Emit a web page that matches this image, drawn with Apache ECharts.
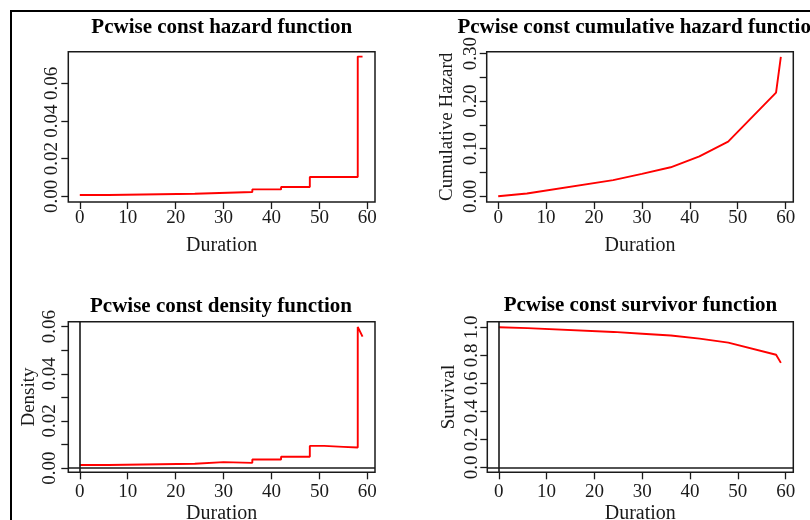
<!DOCTYPE html>
<html><head><meta charset="utf-8">
<script src="https://cdn.jsdelivr.net/npm/echarts@6/dist/echarts.min.js"></script>
<style>html,body{margin:0;padding:0;background:#fff}#c{width:810px;height:520px}</style>
</head><body><div id="c"></div>
<script>
// ---- data ----
const titles = ['Pcwise const hazard function','Pcwise const cumulative hazard function','Pcwise const density function','Pcwise const survivor function'];
const xTickValues = [0,10,20,30,40,50,60];

// piecewise constant hazard: interval breaks and values
const hazardBreaks = [0,6,24,36,42,48,58,59];
const hazardValues = [0.0007,0.0014,0.0023,0.0037,0.0050,0.0103,0.0742];

// cumulative hazard at the breakpoints
const cumTimes  = [0,6,24,30,36,42,48,58,59];
const cumValues = [0,0.006,0.034,0.047,0.061,0.084,0.115,0.218,0.293];

// density (step-like line)
const densityX = [0,6,6,24,24,30,30,36,36,42,42,48,48,51,51,55,55,58,58,59];
const densityY = [0.0013,0.0013,0.0018,0.0018,0.0025,0.0025,0.0022,0.0022,0.0036,0.0036,0.0048,0.0048,0.0094,0.0094,0.0090,0.0090,0.0087,0.0087,0.0599,0.0558];

// survivor function at the breakpoints
const survTimes  = [0,6,24,30,36,42,48,58,59];
const survValues = [1,0.994,0.967,0.954,0.941,0.919,0.891,0.804,0.746];

// y tick marks and labels
const hazTicks = [0,0.02,0.04,0.06], hazLabels = [0,0.02,0.04,0.06];
const cumTicks = [0,0.05,0.10,0.15,0.20,0.25,0.30], cumLabels = [0,0.10,0.20,0.30];
const denTicks = [0,0.01,0.02,0.03,0.04,0.05,0.06], denLabels = [0,0.02,0.04,0.06];
const surTicks = [0,0.2,0.4,0.6,0.8,1.0], surLabels = [0,0.2,0.4,0.6,0.8,1.0];

// ---- build ----
const hazardPts = [];
for (let i = 0; i < hazardValues.length; i++) {
  hazardPts.push([hazardBreaks[i], hazardValues[i]]);
  hazardPts.push([hazardBreaks[i+1], hazardValues[i]]);
}
const cumPts = cumTimes.map((t,i)=>[t,cumValues[i]]);
const denPts = densityX.map((t,i)=>[t,densityY[i]]);
const surPts = survTimes.map((t,i)=>[t,survValues[i]]);

const FONT = '"Liberation Serif","DejaVu Serif",serif';
const INK = '#1a1a1a';

const grids = [
  {left:68.3, top:51.7, width:306.7, height:150.3},
  {left:486.7, top:51.7, width:306.6, height:150.3},
  {left:68.3, top:321.7, width:306.7, height:150.6},
  {left:487.3, top:321.7, width:306, height:150.6}
].map(g => Object.assign({show:true, borderColor:INK, borderWidth:1.5, backgroundColor:'transparent', containLabel:false, outerBoundsMode:'none'}, g));

function xAx(i, labelMargin, nameGap) {
  return {
    type:'value', gridIndex:i, min:-2.4, max:61.6, position:'bottom',
    axisLine:{show:false, onZero:false}, splitLine:{show:false},
    axisTick:{show:true, inside:false, length:7, lineStyle:{color:INK,width:1.3}, customValues:xTickValues},
    axisLabel:{show:true, margin:labelMargin, color:INK, fontFamily:FONT, fontSize:19, customValues:xTickValues, formatter:v=>String(v)},
    name:'Duration', nameLocation:'middle', nameGap:nameGap,
    nameTextStyle:{fontFamily:FONT, fontSize:20, color:INK}
  };
}
function yAx(i, min, max, ticks, labels, dec, name, nameGap, labelMargin) {
  return {
    type:'value', gridIndex:i, min:min, max:max, position:'left',
    axisLine:{show:false, onZero:false}, splitLine:{show:false},
    axisTick:{show:true, inside:false, length:7, lineStyle:{color:INK,width:1.3}, customValues:ticks},
    axisLabel:{show:true, rotate:90, margin:labelMargin, color:INK, fontFamily:FONT, fontSize:19, customValues:labels, formatter:v=>Number(v).toFixed(dec)},
    name:name, nameLocation:'middle', nameGap:nameGap, nameRotate:90,
    nameTextStyle:{fontFamily:FONT, fontSize:19, color:INK}
  };
}

const refLines = {
  silent:true, symbol:['none','none'], label:{show:false},
  lineStyle:{color:INK, type:'solid', width:1.6},
  emphasis:{disabled:true},
  data:[{xAxis:0},{yAxis:0}]
};
function line(i, data, withRef) {
  const s = {type:'line', xAxisIndex:i, yAxisIndex:i, data:data, showSymbol:false, symbol:'none',
    lineStyle:{color:'#ff0000', width:1.9}, itemStyle:{color:'#ff0000'}, animation:false, z:3};
  if (withRef) s.markLine = refLines;
  return s;
}

function titleText(x, y, text) {
  return {type:'text', x:x, y:y, z:10, style:{text:text, fill:'#000', font:'bold 21px '+FONT, textAlign:'center', textVerticalAlign:'middle'}};
}

const option = {
  animation:false,
  backgroundColor:'#fff',
  grid:grids,
  xAxis:[xAx(0,7,34), xAx(1,7,34), xAx(2,10,31), xAx(3,10,31)],
  yAxis:[
    yAx(0,-0.003,0.0768,hazTicks,hazLabels,2,'',30,7),
    yAx(1,-0.012,0.304,cumTicks,cumLabels,2,'Cumulative Hazard',30,6),
    yAx(2,-0.0018,0.0621,denTicks,denLabels,2,'Density',30,9),
    yAx(3,-0.035,1.04,surTicks,surLabels,1,'Survival',29,6)
  ],
  series:[line(0,hazardPts,false), line(1,cumPts,false), line(2,denPts,true), line(3,surPts,true)],
  graphic:[
    {type:'rect', z:0, shape:{x:11, y:11, width:900, height:600}, style:{fill:'none', stroke:'#000', lineWidth:2}},
    titleText(221.7, 27.5, titles[0]),
    titleText(640, 27.5, titles[1]),
    titleText(221, 306.5, titles[2]),
    titleText(640.5, 305.5, titles[3])
  ]
};
const chart = echarts.init(document.getElementById('c'), null, {renderer:'canvas'});
chart.setOption(option);
</script></body></html>
